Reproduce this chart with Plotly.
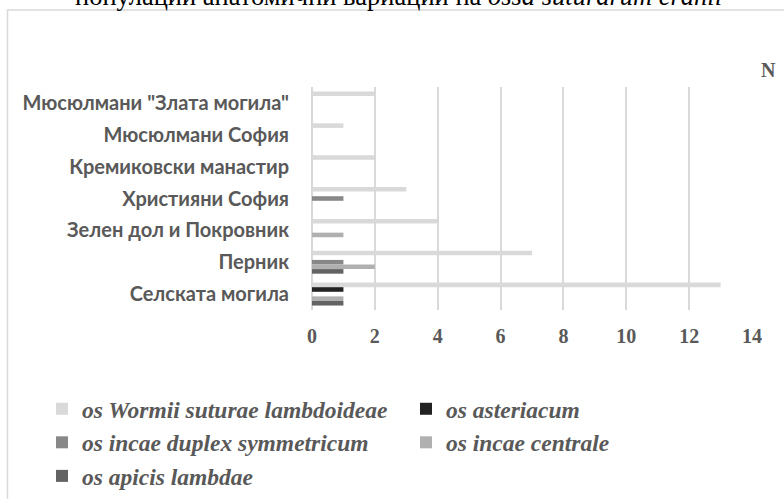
import plotly.graph_objects as go

# ---- data ----
categories = ['Мюсюлмани "Злата могила"', 'Мюсюлмани София', 'Кремиковски манастир',
              'Християни София', 'Зелен дол и Покровник', 'Перник', 'Селската могила']
series_names = ['os Wormii suturae lambdoideae', 'os asteriacum',
                'os incae duplex symmetricum', 'os incae centrale', 'os apicis lambdae']
wormii = [2, 1, 2, 3, 4, 7, 13]
asteriacum = [0, 0, 0, 0, 0, 0, 1]
incae_duplex = [0, 0, 0, 1, 0, 1, 0]
incae_centrale = [0, 0, 0, 0, 1, 2, 1]
apicis_lambdae = [0, 0, 0, 0, 0, 1, 1]
x_ticks = [0, 2, 4, 6, 8, 10, 12, 14]
series_colors = ['#d9d9d9', '#222222', '#888888', '#b0b0b0', '#636363']

title_text = 'популации анатомични вариации на <i>ossa suturarum cranii</i>'
axis_title = 'N'

# ---- layout geometry (pixels) ----
W, H = 784, 499
L, R, T, B = 312, 32, 87, 189
PW, PH = W - L - R, H - T - B


def px(x):
    return (x - L) / PW


def py(y):
    return (H - B - y) / PH


SERIF = 'Liberation Serif, Times New Roman, serif'
SANS = 'Lato, Carlito, Calibri, Noto Sans, sans-serif'
GRAY = '#595959'

fig = go.Figure()
for name, vals, col in zip(series_names,
                           [wormii, asteriacum, incae_duplex, incae_centrale, apicis_lambdae],
                           series_colors):
    fig.add_trace(go.Bar(y=categories, x=vals, name='<b><i>' + name + '</i></b>',
                         orientation='h', marker=dict(color=col, line=dict(width=0))))

fig.update_layout(
    width=W, height=H,
    margin=dict(l=L, r=R, t=T, b=B, autoexpand=False),
    paper_bgcolor='white', plot_bgcolor='white',
    barmode='group', bargap=0.28, bargroupgap=0,
    xaxis=dict(range=[0, 14], tickvals=x_ticks, showgrid=True, gridcolor='#d9d9d9',
               gridwidth=1.5, zeroline=True, zerolinecolor='#d9d9d9', zerolinewidth=1.5,
               showline=False, ticks='', ticklabelstandoff=12,
               tickfont=dict(family=SERIF, size=20, color=GRAY, weight='bold')),
    yaxis=dict(type='category', categoryorder='array', categoryarray=categories,
               autorange='reversed', showgrid=False, zeroline=False, showline=False,
               ticks='', ticklabelstandoff=22,
               tickfont=dict(family=SANS, size=20, color=GRAY, weight='bold')),
    legend=dict(orientation='h', x=px(42), y=py(387), xanchor='left', yanchor='top',
                entrywidth=319, entrywidthmode='pixels', traceorder='normal',
                font=dict(family=SERIF, size=23.5, color=GRAY, weight='bold', style='italic'),
                bgcolor='rgba(0,0,0,0)'),
    showlegend=True,
    shapes=[dict(type='rect', xref='paper', yref='paper',
                 x0=px(7.5), x1=px(W + 20), y0=py(H + 20), y1=py(10),
                 line=dict(color='#d9d9d9', width=1.5), fillcolor='rgba(0,0,0,0)',
                 layer='below')],
    annotations=[
        dict(text=title_text, xref='paper', yref='paper', x=px(398), y=py(13),
             xanchor='center', yanchor='bottom', showarrow=False,
             font=dict(family=SERIF, size=26.5, color='black')),
        dict(text='<b>' + axis_title + '</b>', xref='paper', yref='paper', x=px(768), y=py(69.5),
             xanchor='center', yanchor='middle', showarrow=False,
             font=dict(family=SERIF, size=20, color=GRAY)),
    ],
)

fig.write_html('out.html', config={'displayModeBar': False},
               post_script="document.body.style.margin='0px';")
